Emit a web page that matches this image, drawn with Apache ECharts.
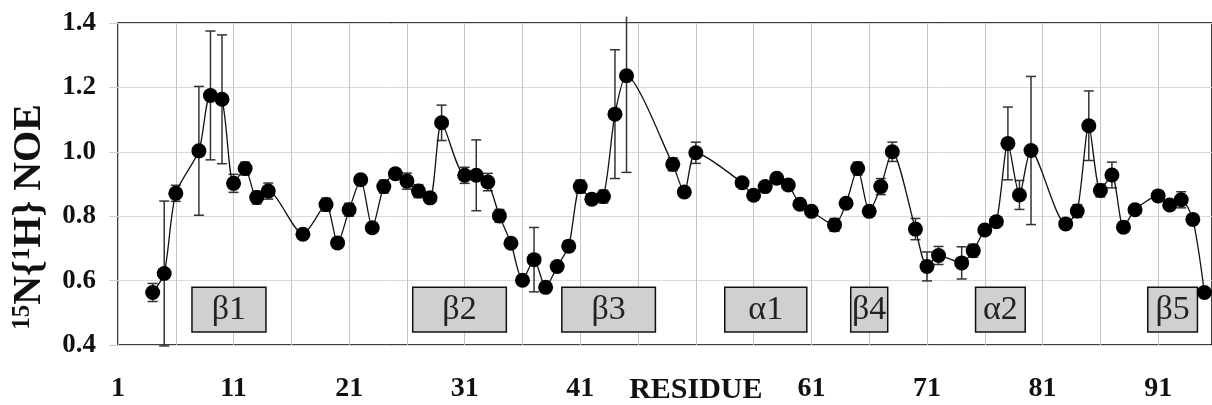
<!DOCTYPE html>
<html>
<head>
<meta charset="utf-8">
<script src="https://cdn.jsdelivr.net/npm/echarts@6/dist/echarts.min.js"></script>
<style>
  html, body { margin: 0; padding: 0; background: #fff; }
  #noe-chart { width: 1212px; height: 405px; }
</style>
</head>
<body>
<div id="noe-chart"></div>
<script>
// residue numbers, NOE values and error (+/-)
var residues = [4, 5, 6, 8, 9, 10, 11, 12, 13, 14, 17, 19, 20, 21, 22, 23, 24, 25, 26, 27, 28, 29,
    31, 32, 33, 34, 35, 36, 37, 38, 39, 40, 41, 42, 43, 44, 45, 49, 50, 51, 55, 56, 57, 58, 59, 60, 61,
    63, 64, 65, 66, 67, 68, 70, 71, 72, 74, 75, 76, 77, 78, 79, 80, 83, 84, 85, 86, 87, 88, 89,
    91, 92, 93, 94, 95];
var noe = [0.563, 0.622, 0.871, 1.003, 1.175, 1.163, 0.902, 0.948, 0.858, 0.878, 0.744, 0.836, 0.717, 0.820, 0.913, 0.764, 0.892, 0.932, 0.909, 0.878, 0.857, 1.090,
    0.927, 0.927, 0.906, 0.801, 0.716, 0.601, 0.665, 0.579, 0.644, 0.707, 0.892, 0.853, 0.861, 1.117, 1.236, 0.961, 0.875, 0.997, 0.904, 0.865, 0.892, 0.918, 0.897, 0.837, 0.815,
    0.773, 0.840, 0.948, 0.815, 0.892, 1.000, 0.760, 0.644, 0.678, 0.655, 0.693, 0.757, 0.783, 1.026, 0.866, 1.004, 0.776, 0.816, 1.081, 0.880, 0.928, 0.766, 0.820,
    0.863, 0.835, 0.851, 0.790, 0.563];
var noeErr = [0.028, 0.225, 0.025, 0.2, 0.2, 0.2, 0.028, 0.02, 0.02, 0.025, 0.01, 0.02, 0.015, 0.02, 0.015, 0.015, 0.02, 0.01, 0.025, 0.02, 0.01, 0.055,
    0.025, 0.11, 0.027, 0.02, 0.015, 0.01, 0.1, 0.01, 0.01, 0.017, 0.02, 0.015, 0.02, 0.2, 0.3, 0.02, 0.01, 0.033, 0.01, 0.015, 0.01, 0.01, 0.01, 0.01, 0.01,
    0.02, 0.01, 0.02, 0.01, 0.025, 0.03, 0.033, 0.045, 0.028, 0.05, 0.02, 0.01, 0.01, 0.113, 0.045, 0.23, 0.01, 0.02, 0.108, 0.02, 0.04, 0.015, 0.01,
    0.015, 0.01, 0.025, 0.01, 0.01];

// secondary structure elements (residue ranges)
var ssLabels = ['β1', 'β2', 'β3', 'α1', 'β4', 'α2', 'β5'];
var ssStart = [7.4, 26.5, 39.4, 53.5, 64.4, 75.2, 90.1];
var ssEnd = [13.8, 34.6, 47.5, 60.6, 67.6, 79.5, 94.4];

var yTicks = [0.4, 0.6, 0.8, 1.0, 1.2, 1.4];

var serif = "'Liberation Serif', 'Times New Roman', serif";

function init() {
    var chart = echarts.init(document.getElementById('noe-chart'));

    var points = residues.map(function (r, i) { return [r, noe[i]]; });
    var bars = residues.map(function (r, i) { return [r, noe[i] - noeErr[i], noe[i] + noeErr[i]]; });

    var boxes = ssLabels.map(function (name, i) {
        return [{ name: name, xAxis: ssStart[i], yAxis: 0.44 }, { xAxis: ssEnd[i], yAxis: 0.579 }];
    });

    chart.setOption({
        animation: false,
        backgroundColor: '#fff',
        grid: {
            left: 118, top: 23, bottom: 58, right: -4,
            show: true, borderColor: '#000', borderWidth: 1.5, backgroundColor: '#fff'
        },
        graphic: [{
            type: 'text',
            x: 30, y: 217,
            rotation: Math.PI / 2,
            style: {
                text: '{s|15}N{{s|1}H} NOE',
                font: 'bold 40px ' + serif,
                fill: '#111',
                align: 'center',
                verticalAlign: 'middle',
                rich: {
                    s: { fontSize: 25, fontWeight: 'bold', fontFamily: serif, verticalAlign: 'top', lineHeight: 40, padding: [0, 0, 13, 0] }
                }
            }
        }],
        xAxis: {
            type: 'value',
            min: 1, max: 95.66, interval: 5,
            axisLine: { show: false },
            axisTick: { show: false },
            splitLine: { show: true, lineStyle: { color: '#c4c4c4', width: 1 } },
            axisLabel: {
                margin: 30,
                fontFamily: serif, fontWeight: 'bold', fontSize: 28, color: '#111',
                showMaxLabel: false,
                formatter: function (v) {
                    if ((v - 1) % 10 !== 0) return '';
                    if (v === 51) return '{r|RESIDUE}';
                    return String(v);
                },
                rich: { r: { fontFamily: serif, fontWeight: 'bold', fontSize: 30, color: '#111' } }
            }
        },
        yAxis: {
            type: 'value',
            min: yTicks[0], max: yTicks[yTicks.length - 1], interval: 0.2,
            axisLine: { show: false },
            axisTick: { show: true, length: 9, lineStyle: { color: '#d0d0d0' } },
            splitLine: { show: true, lineStyle: { color: '#dadada', width: 1 } },
            axisLabel: {
                margin: 22,
                fontFamily: serif, fontWeight: 'bold', fontSize: 27, color: '#111',
                formatter: function (v) { return v.toFixed(1); }
            }
        },
        series: [
            {
                type: 'custom',
                name: 'error',
                clip: false,
                z: 3,
                renderItem: function (params, api) {
                    var top = Math.min(api.value(2), 1.42);
                    var p0 = api.coord([api.value(0), api.value(1)]);
                    var p1 = api.coord([api.value(0), top]);
                    var w = 5;
                    var style = { stroke: '#333', lineWidth: 1.5 };
                    var kids = [
                        { type: 'line', shape: { x1: p0[0], y1: p0[1], x2: p1[0], y2: p1[1] }, style: style },
                        { type: 'line', shape: { x1: p0[0] - w, y1: p0[1], x2: p0[0] + w, y2: p0[1] }, style: style }
                    ];
                    if (top === api.value(2)) {
                        kids.push({ type: 'line', shape: { x1: p1[0] - w, y1: p1[1], x2: p1[0] + w, y2: p1[1] }, style: style });
                    }
                    return { type: 'group', children: kids };
                },
                data: bars
            },
            {
                type: 'line',
                name: 'NOE',
                data: points,
                smooth: 0.25,
                z: 4,
                symbol: 'circle',
                symbolSize: 15,
                lineStyle: { color: '#111', width: 1.3 },
                itemStyle: { color: '#000' },
                markArea: {
                    silent: true,
                    itemStyle: { color: '#d0d0d0', borderColor: '#111', borderWidth: 1.5 },
                    label: {
                        show: true, position: 'inside',
                        fontFamily: serif, fontSize: 34, color: '#222', fontWeight: 'normal'
                    },
                    data: boxes
                }
            }
        ]
    });
}

document.addEventListener('DOMContentLoaded', function () {
    init();
});
</script>
</body>
</html>
